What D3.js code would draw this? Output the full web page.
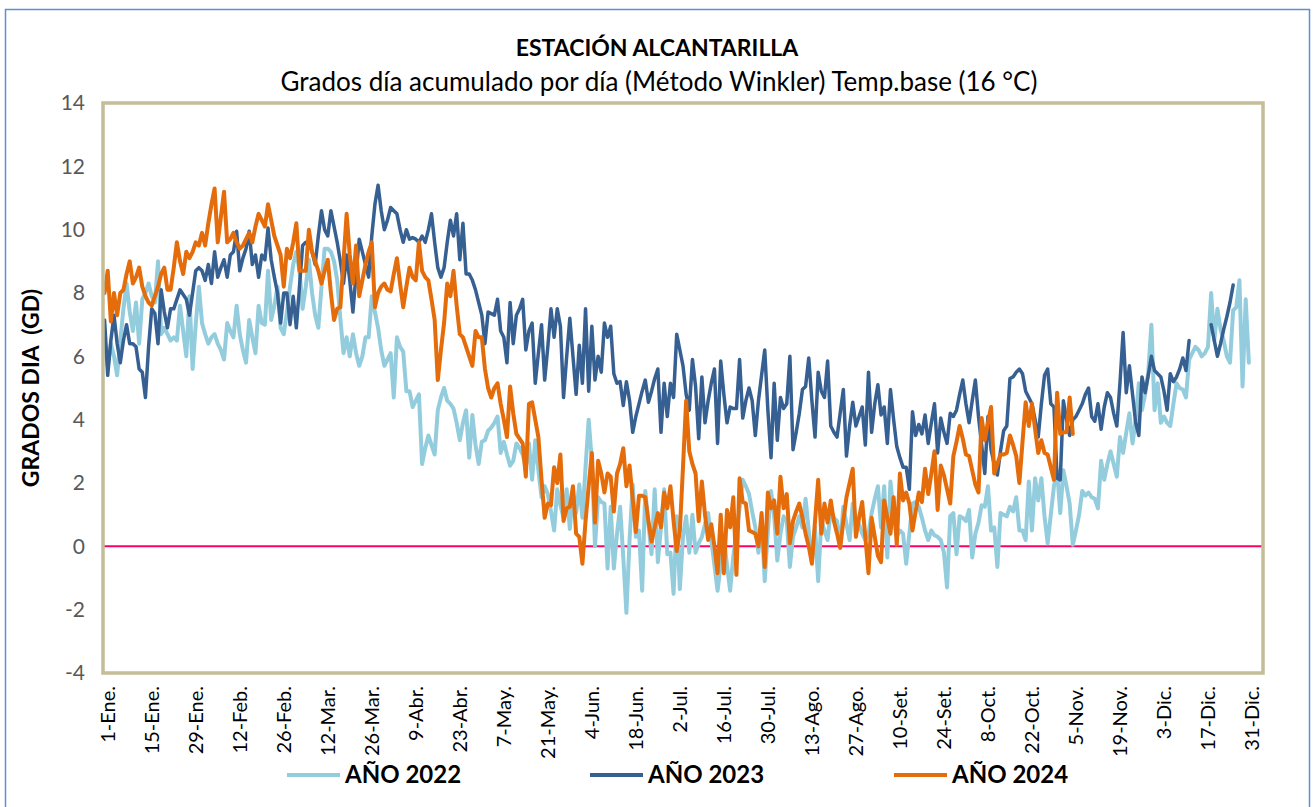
<!DOCTYPE html>
<html>
<head>
<meta charset="utf-8">
<script src="https://cdn.jsdelivr.net/npm/d3@7"></script>
<style>
    html, body { margin: 0; padding: 0; background: #fff; }
    svg { display: block; font-family: Lato, "Liberation Sans", Arial, sans-serif; }
</style>
</head>
<body>
<svg id="chart" width="1314" height="807"></svg>
<script>
// etiquetas del eje X (una cada 14 días)
const tickLabels = ['1-Ene.', '15-Ene.', '29-Ene.', '12-Feb.', '26-Feb.', '12-Mar.', '26-Mar.', '9-Abr.',
    '23-Abr.', '7-May.', '21-May.', '4-Jun.', '18-Jun.', '2-Jul.', '16-Jul.', '30-Jul.', '13-Ago.',
    '27-Ago.', '10-Set.', '24-Set.', '8-Oct.', '22-Oct.', '5-Nov.', '19-Nov.', '3-Dic.', '17-Dic.', '31-Dic.'];
const tickStep = 14;
const yTicks = [-4, -2, 0, 2, 4, 6, 8, 10, 12, 14];

// grados día diarios
const year2022 = [
    6.4, 5.7, 6.4, 6.0, 5.4, 6.5, 7.5, 8.3, 7.4, 6.8, 7.7, 6.4, 7.8, 8.0, 8.3, 7.9, 7.7, 9.0, 6.7, 6.9,
    6.7, 6.5, 6.6, 6.5, 7.6, 6.8, 6.0, 7.9, 5.6, 7.0, 8.2, 7.05, 6.7, 6.4, 6.6, 6.7, 6.4, 6.2, 5.9, 7.05,
    6.8, 6.6, 7.6, 6.7, 6.2, 5.8, 7.15, 6.6, 6.1, 7.6, 7.05, 7.0, 8.7, 7.15, 7.6, 8.2, 6.9, 6.7, 7.4, 8.2,
    8.9, 9.3, 8.7, 7.5, 8.2, 9.05, 8.0, 7.3, 6.9, 8.2, 9.4, 9.4, 9.3, 9.0, 8.4, 7.2, 6.1, 6.6, 6.0, 6.7,
    6.1, 5.7, 6.0, 6.6, 6.6, 7.9, 7.4, 6.9, 6.2, 5.7, 5.9, 6.1, 4.7, 6.6, 6.3, 6.15, 4.9, 4.9, 4.4, 4.6,
    4.8, 2.6, 3.1, 3.5, 3.2, 2.9, 4.3, 4.7, 5.0, 4.6, 4.5, 4.35, 3.9, 3.35, 3.9, 4.3, 2.8, 4.15, 3.2, 2.6,
    3.3, 3.35, 3.65, 3.75, 3.9, 4.1, 2.95, 3.3, 2.9, 2.55, 2.7, 3.25, 3.1, 2.9, 2.5, 3.25, 2.1, 3.35, 2.4, 1.55,
    1.9, 1.65, 1.1, 0.5, 1.8, 1.3, 0.9, 1.8, 0.55, 1.75, 1.05, 1.95, 0.9, 2.5, 4.0, 2.7, 0.0, 1.55, 1.4, 1.35,
    -0.7, 1.25, -0.7, 0.4, 1.25, -0.35, -2.1, 0.2, 1.95, 0.3, 0.5, -1.4, 1.75, 0.7, -0.25, 1.8, -0.5, 0.6, 1.8, -0.25,
    -0.2, -1.5, 0.95, -1.35, 0.3, 0.95, -0.2, 1.0, -0.2, 0.1, 0.3, 0.7, 1.05, 0.2, -0.6, -1.4, -0.55, 0.3, -0.6, -1.4,
    -0.3, 0.4, 1.2, 2.1, 1.9, 1.65, 1.1, 0.6, -0.2, 0.8, -1.1, 0.5, 1.75, 0.95, -0.45, 0.4, 0.95, 0.8, -0.65, 0.3,
    0.6, 0.95, 0.6, 1.5, 0.5, -0.5, 0.6, -1.1, 0.8, 0.5, 0.2, 1.15, 0.9, 0.8, 0.0, 1.25, 0.7, 0.2, 1.35, 0.9,
    0.7, 0.4, 0.2, 0.4, 1.05, 1.5, 1.9, 0.6, 1.9, -0.35, 2.05, 1.0, 0.3, 0.5, 0.4, -0.55, 0.4, 1.35, 1.4, 1.25,
    0.9, 0.5, 0.2, 0.5, 0.35, 0.3, 0.2, -0.2, -1.3, 0.95, 1.05, -0.25, 0.95, 0.9, 0.8, 1.15, -0.35, 0.4, 0.75, 1.3,
    1.25, 1.9, 0.5, 0.6, -0.65, 1.05, 1.0, 0.95, 1.25, 1.1, 1.55, 0.5, 0.5, 0.2, 2.05, 0.5, 2.15, 1.45, 2.15, 0.95,
    0.1, 1.0, 1.9, 2.4, 1.05, 2.4, 1.9, 1.35, 0.05, 0.5, 1.0, 1.75, 1.6, 1.7, 1.55, 1.5, 1.2, 2.7, 2.1, 2.6,
    3.0, 2.6, 2.2, 3.45, 2.95, 3.6, 4.2, 3.25, 4.0, 5.15, 4.3, 4.8, 5.5, 7.0, 4.3, 5.15, 3.9, 4.1, 3.9, 3.8,
    4.5, 5.15, 5.0, 4.95, 4.7, 5.9, 6.1, 6.3, 6.2, 6.0, 6.1, 6.3, 8.0, 6.5, 7.5, 6.85, 6.5, 6.0, 5.8, 7.45,
    7.55, 8.4, 5.05, 7.8, 5.8
];

const year2023 = [
    7.15, 5.4, 6.5, 7.3, 6.4, 5.8, 6.5, 7.0, 6.4, 6.4, 6.3, 5.6, 5.5, 4.7, 6.3, 7.5, 7.35, 6.4, 8.1, 7.4,
    6.9, 7.5, 7.5, 7.8, 8.1, 7.95, 7.8, 7.3, 8.0, 8.7, 8.8, 8.7, 8.4, 8.9, 8.3, 9.3, 8.5, 8.8, 9.05, 8.5,
    9.2, 9.3, 9.95, 8.7, 9.1, 9.4, 9.95, 8.9, 9.2, 8.5, 9.2, 9.05, 10.05, 9.05, 8.5, 8.0, 7.05, 8.0, 8.0, 7.0,
    7.9, 6.9, 8.2, 9.5, 9.6, 9.6, 9.3, 8.9, 9.8, 10.6, 10.0, 9.8, 10.6, 10.1, 9.6, 9.0, 8.3, 9.2, 8.4, 7.4,
    8.6, 9.7, 9.3, 8.9, 8.5, 9.8, 10.8, 11.4, 10.6, 10.0, 10.3, 10.7, 10.6, 10.5, 10.0, 9.6, 10.0, 9.7, 9.75, 9.7,
    9.6, 9.8, 9.6, 10.0, 10.5, 9.6, 8.8, 8.5, 8.8, 9.6, 10.3, 9.8, 10.5, 9.05, 10.2, 8.6, 8.6, 8.4, 8.1, 7.7,
    7.3, 6.4, 7.4, 7.35, 7.3, 7.8, 6.8, 6.6, 5.8, 7.7, 6.4, 7.3, 7.5, 7.8, 6.2, 6.8, 7.05, 5.15, 6.1, 7.0,
    5.25, 6.3, 7.5, 6.6, 7.5, 6.95, 4.7, 6.0, 7.2, 6.0, 4.8, 6.35, 5.15, 7.5, 4.9, 6.95, 5.25, 6.0, 5.5, 7.05,
    6.6, 6.95, 5.45, 5.15, 5.2, 4.45, 5.2, 4.6, 3.6, 4.1, 4.5, 4.9, 5.25, 4.55, 4.9, 5.3, 5.6, 3.6, 5.15, 4.1,
    5.15, 4.7, 6.7, 6.2, 5.7, 4.8, 4.3, 5.9, 5.05, 3.4, 5.35, 3.9, 4.6, 5.15, 5.6, 3.25, 5.85, 4.8, 3.9, 4.4,
    4.35, 4.35, 5.9, 4.05, 4.6, 5.0, 4.6, 3.5, 4.6, 5.4, 6.2, 4.3, 2.8, 5.15, 3.35, 4.7, 4.35, 4.5, 6.0, 3.05,
    3.6, 4.2, 4.95, 5.05, 5.95, 4.6, 3.45, 5.5, 4.9, 4.7, 5.85, 3.8, 3.6, 3.45, 4.2, 4.95, 2.85, 3.8, 4.55, 3.8,
    4.1, 4.4, 3.2, 5.5, 3.6, 4.5, 5.1, 4.15, 4.4, 3.25, 4.95, 4.0, 3.15, 2.8, 2.5, 2.5, 1.8, 4.25, 3.5, 3.85,
    3.55, 4.15, 3.25, 3.9, 4.5, 2.95, 4.05, 3.6, 3.25, 4.2, 4.1, 4.3, 4.8, 5.25, 4.5, 3.9, 4.6, 5.25, 4.1, 3.2,
    2.3, 4.1, 3.05, 2.6, 2.25, 3.0, 3.65, 3.8, 5.3, 5.35, 5.5, 5.6, 5.45, 4.9, 4.7, 4.5, 4.0, 3.45, 4.5, 5.4,
    5.6, 4.5, 4.4, 2.15, 2.1, 4.6, 4.0, 3.5, 4.0, 4.1, 4.3, 4.5, 4.8, 5.0, 4.1, 3.95, 4.5, 3.7, 4.4, 4.85,
    4.7, 4.2, 3.8, 5.15, 6.75, 4.85, 5.7, 4.8, 3.9, 3.5, 5.35, 4.85, 5.4, 6.0, 5.55, 5.45, 5.35, 4.9, 4.3, 5.45,
    5.2, 5.35, 5.6, 5.95, 5.55, 6.5, null, null, null, null, null, null, 7.0, 6.5, 6.0, 6.4, 6.85, 7.25, 7.7, 8.25
];

const year2024 = [
    8.0, 8.7, 7.1, 8.0, 7.3, 8.0, 8.1, 8.6, 9.0, 8.3, 8.5, 8.8, 8.2, 7.9, 7.7, 7.6, 7.9, 8.2, 8.6, 8.8,
    8.1, 8.1, 8.8, 9.6, 9.0, 8.6, 9.3, 9.1, 9.3, 9.6, 9.5, 9.9, 9.5, 10.2, 10.8, 11.3, 9.6, 10.4, 11.2, 9.6,
    9.7, 9.9, 9.6, 9.4, 9.5, 9.7, 9.9, 9.6, 10.1, 10.5, 10.3, 10.1, 10.8, 10.3, 9.8, 9.5, 9.2, 8.2, 9.4, 9.1,
    9.6, 10.2, 8.7, 8.7, 8.7, 10.0, 9.3, 9.0, 8.7, 8.3, 8.7, 9.05, 8.0, 7.15, 7.5, 7.55, 9.0, 10.5, 9.2, 8.3,
    9.5, 7.9, 8.4, 8.9, 9.3, 9.6, 7.55, 8.0, 8.2, 8.3, 8.1, 8.05, 8.6, 9.1, 8.3, 7.55, 8.2, 8.8, 8.5, 8.4,
    9.6, 8.7, 8.5, 8.4, 7.8, 7.15, 5.25, 6.2, 7.05, 8.3, 7.9, 8.7, 7.6, 6.7, 6.6, 6.3, 6.0, 5.7, 6.8, 6.6,
    6.6, 5.6, 5.0, 4.7, 5.0, 5.15, 4.5, 4.0, 3.45, 5.05, 4.2, 3.55, 3.4, 3.25, 2.2, 4.5, 4.55, 4.0, 3.45, 2.1,
    0.9, 1.35, 1.3, 2.5, 2.0, 2.9, 0.8, 1.2, 1.25, 1.9, 0.4, 0.3, -0.55, 0.8, 1.9, 2.95, 0.75, 2.7, 2.3, 1.7,
    2.3, 2.2, 1.1, 2.3, 2.6, 3.1, 1.9, 2.55, 1.5, 0.45, 1.6, 1.6, 1.55, 0.8, 0.15, 0.6, 1.05, 0.6, 1.7, 1.2,
    1.9, 0.8, -0.15, 0.5, 2.5, 4.6, 3.0, 2.6, 2.3, 0.8, 2.05, 1.0, 0.2, 0.7, 0.0, -0.85, 1.0, -0.85, 1.15, 0.6,
    1.55, -0.9, 2.15, 1.4, 1.35, 0.5, 0.45, 0.4, 0.0, 1.05, -0.65, 1.7, 1.2, 1.45, 0.4, 2.2, 1.2, 1.65, 0.1, 0.8,
    1.1, 1.35, 0.9, 0.4, 0.0, -0.55, 0.8, 2.1, 0.4, 1.35, 0.75, 1.45, 0.8, 0.4, -0.05, 0.8, 1.55, 2.0, 2.45, 0.3,
    0.9, 1.4, 0.3, -0.85, 0.9, 0.3, -0.3, -0.5, 1.45, 0.9, 0.4, 1.55, 0.05, 2.3, 1.45, 1.7, 1.35, 0.5, 1.1, 1.7,
    1.4, 2.45, 1.65, 2.3, 3.0, 1.15, 2.55, 2.25, 1.8, 1.35, 2.85, 3.3, 3.8, 3.4, 2.9, 2.85, 2.4, 1.95, 1.7, 4.05,
    3.35, 3.9, 4.4, 2.3, 2.6, 2.9, 2.9, 2.95, 3.5, 3.2, 2.85, 2.0, 3.3, 4.55, 3.8, 4.5, 3.7, 2.95, 3.35, 2.95,
    2.9, 2.5, 2.1, 4.85, 3.55, 3.6, 3.6, 4.7, 3.55
];

const seriesNames = ['AÑO 2022', 'AÑO 2023', 'AÑO 2024'];
const seriesColors = ['#93cddd', '#376092', '#e46c0a'];
const seriesWidths = [4, 3.5, 4];

const svg = d3.select('#chart');
const plot = {left: 103, top: 103, right: 1263, bottom: 673};

// 365 días + algunas categorías vacías al final, como en la hoja original
const x = d3.scaleLinear().domain([-0.5, 368.5]).range([plot.left, plot.right]);
const y = d3.scaleLinear().domain([-4, 14]).range([plot.bottom, plot.top]);

// marco exterior
svg.append('rect')
    .attr('x', 5.5).attr('y', 9.5)
    .attr('width', 1304).attr('height', 820)
    .attr('fill', 'none')
    .attr('stroke', '#5b8fd6')
    .attr('stroke-width', 1.5);

// títulos
svg.append('text')
    .attr('x', 657).attr('y', 56)
    .attr('text-anchor', 'middle')
    .style('font-size', '23px').style('font-weight', 'bold')
    .text('ESTACIÓN ALCANTARILLA');

svg.append('text')
    .attr('x', 659).attr('y', 91)
    .attr('text-anchor', 'middle')
    .style('font-size', '26px')
    .text('Grados día acumulado por día (Método Winkler) Temp.base (16 °C)');

// eje Y
const yAxis = svg.append('g')
    .attr('transform', `translate(${plot.left},0)`)
    .call(d3.axisLeft(y).tickValues(yTicks).tickFormat(d => String(d)).tickSize(0).tickPadding(18));
yAxis.select('.domain').remove();
yAxis.selectAll('text')
    .style('font-size', '21px')
    .style('font-family', 'Lato, "Liberation Sans", sans-serif')
    .attr('fill', '#595959');

svg.append('text')
    .attr('transform', `translate(31,${(plot.top + plot.bottom) / 2}) rotate(-90)`)
    .attr('text-anchor', 'middle')
    .attr('dy', '0.35em')
    .style('font-size', '23px').style('font-weight', 'bold')
    .style('white-space', 'pre')
    .text('GRADOS DIA  (GD)');

// eje X con etiquetas verticales
const xAxis = svg.append('g')
    .attr('transform', `translate(0,${plot.bottom})`)
    .call(d3.axisBottom(x)
        .tickValues(d3.range(0, 365, tickStep))
        .tickFormat((d, i) => tickLabels[i])
        .tickSize(0));
xAxis.select('.domain').remove();
xAxis.selectAll('text')
    .attr('transform', 'rotate(-90)')
    .attr('text-anchor', 'end')
    .attr('x', -13).attr('y', 3)
    .attr('dy', '0.35em')
    .style('font-size', '20px')
    .style('font-family', 'Lato, "Liberation Sans", sans-serif')
    .attr('fill', '#000');

// línea de cero
svg.append('line')
    .attr('x1', plot.left).attr('x2', plot.right)
    .attr('y1', y(0)).attr('y2', y(0))
    .attr('stroke', '#ff0066')
    .attr('stroke-width', 2);

// series
const line = d3.line()
    .defined(d => d != null)
    .x((d, i) => x(i))
    .y(d => y(d));

[year2022, year2023, year2024].forEach((values, k) => {
    svg.append('path')
        .datum(values)
        .attr('d', line)
        .attr('fill', 'none')
        .attr('stroke', seriesColors[k])
        .attr('stroke-width', seriesWidths[k])
        .attr('stroke-linejoin', 'round')
        .attr('stroke-linecap', 'round');
});

// borde del área de trazado
svg.append('rect')
    .attr('x', plot.left).attr('y', plot.top)
    .attr('width', plot.right - plot.left)
    .attr('height', plot.bottom - plot.top)
    .attr('fill', 'none')
    .attr('stroke', '#c4bd97')
    .attr('stroke-width', 3.5);

// leyenda
const legendX = [287, 590, 894];
const legend = svg.append('g');
seriesNames.forEach((name, k) => {
    const g = legend.append('g').attr('transform', `translate(${legendX[k]},775)`);
    g.append('line')
        .attr('x1', 0).attr('x2', 53)
        .attr('stroke', seriesColors[k])
        .attr('stroke-width', 4);
    g.append('text')
        .attr('x', 58).attr('dy', '0.35em')
        .style('font-size', '24px').style('font-weight', 'bold')
        .text(name);
});
</script>
</body>
</html>
